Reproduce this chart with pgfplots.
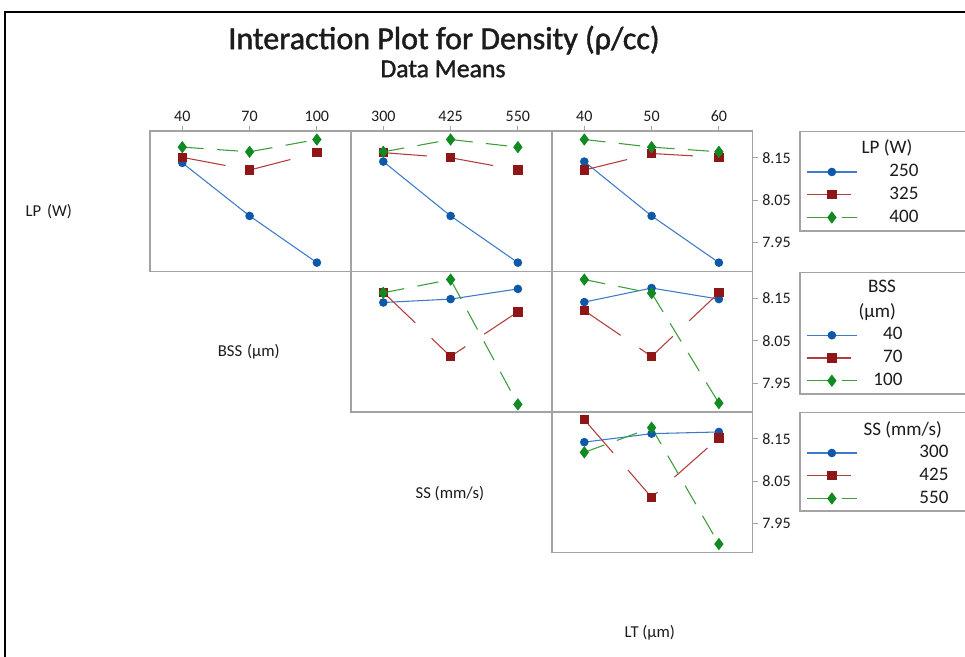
\documentclass[border=0pt]{standalone}
\usepackage{pgfplots}
\pgfplotsset{compat=1.18}
\usepackage{fontspec}
\setmainfont{Carlito}
\newfontfamily\titlefont{Carlito}[FakeBold=1.4]
\definecolor{axgray}{HTML}{A3A3A3}
\definecolor{mblue}{HTML}{0E58A8}
\definecolor{lblue}{HTML}{3C7BC8}
\definecolor{mred}{HTML}{8E1616}
\definecolor{lred}{HTML}{B33C3C}
\definecolor{mgreen}{HTML}{118A22}
\definecolor{lgreen}{HTML}{3A9E3A}
\definecolor{txt}{HTML}{1C1C1C}
\pgfplotsset{
  panel/.style={scale only axis, width=150.4pt, height=105.4pt, anchor=north west,
    xmin=-0.48, xmax=2.5, ymin=7.882, ymax=8.213,
    axis line style={draw=axgray, line width=1.1pt},
    xtick=\empty, ytick=\empty, tick align=outside, major tick length=3.8pt,
    tick style={draw=axgray, line width=0.8pt},
    ticklabel style={font=\fontsize{12}{14}\selectfont, text=txt},
    /pgf/number format/assume math mode=true},
  toprow/.style={xtick={0,1,2}, xtick pos=top, xticklabel pos=top},
  rightcol/.style={ytick={7.95,8.05,8.15}, ytick pos=right, yticklabel pos=right,
    yticklabel style={/pgf/number format/.cd, fixed, fixed zerofill, precision=2}},
  sA/.style={color=lblue, line width=0.8pt, solid, mark=*, mark size=2.8pt,
    mark options={solid, fill=mblue, draw=mblue}},
  sB/.style={color=lred, line width=0.8pt, dash pattern=on 33pt off 17pt, mark=square*, mark size=3.1pt,
    mark options={solid, fill=mred, draw=mred}},
  sC/.style={color=lgreen, line width=0.8pt, dash pattern=on 16pt off 10pt, mark=diamond*, mark size=4pt,
    mark options={solid, fill=mgreen, draw=mgreen}},
  leg/.style={legend image code/.code={\draw[##1, mark repeat=2, mark phase=2] plot coordinates {(0pt,0pt) (18.75pt,0pt) (37.5pt,0pt)};},
    legend style={draw=none, fill=none, inner sep=0pt, row sep=4.06pt, column sep=0pt,
      nodes={inner sep=0pt, text height=10pt, text depth=3pt},
      font=\fontsize{14.3}{16}\selectfont, text=txt, anchor=north west}},
}
\begin{document}
\begin{tikzpicture}
\useasboundingbox (0pt,0pt) rectangle (723.75pt,-492.75pt);
\fill[white] (0pt,0pt) rectangle (723.75pt,-492.75pt);
\draw[black, line width=1.5pt] (3.75pt,-492.75pt) -- (3.75pt,-9pt) -- (723.75pt,-9pt);
\node[font=\titlefont\fontsize{24}{28}\selectfont, text=txt] at (333pt,-30pt) {Interaction Plot for Density (ρ/cc)};
\node[font=\titlefont\fontsize{19.3}{22}\selectfont, text=txt] at (332.25pt,-51.75pt) {Data Means};
\begin{scope}[font=\fontsize{12.5}{14}\selectfont, text=txt]
\node at (36.6pt,-158.8pt) {LP\hspace{0.35em}(W)};
\node at (186.6pt,-263.8pt) {BSS\hspace{0.3em}(µm)};
\node at (337.4pt,-370pt) {SS (mm/s)};
\node at (487.4pt,-474.5pt) {LT (µm)};
\end{scope}
% legend frames and titles
\draw[axgray, line width=1pt] (600pt,-98.8pt) rectangle (725pt,-173.25pt);
\draw[axgray, line width=1pt] (600pt,-204.5pt) rectangle (725pt,-295.5pt);
\draw[axgray, line width=1pt] (600pt,-309.2pt) rectangle (725pt,-383.25pt);
\begin{scope}[font=\fontsize{14.3}{16}\selectfont, text=txt]
\node[anchor=east] at (687.75pt,-111.2pt) {LP (W)};
\node[anchor=east] at (675.5pt,-215pt) {BSS};
\node[anchor=east] at (675.5pt,-233.8pt) {(µm)};
\node[anchor=east] at (710pt,-322.5pt) {SS (mm/s)};
\end{scope}

% Row 1: LP
\begin{axis}[panel, toprow, xticklabels={40,70,100}, at={(112.5pt,-98.25pt)}]
\addplot[sA] coordinates {(0,8.138) (1,8.013) (2,7.903)};
\addplot[sB] coordinates {(0,8.151) (1,8.121) (2,8.162)};
\addplot[sC] coordinates {(0,8.175) (1,8.164) (2,8.193)};
\end{axis}
\begin{axis}[panel, toprow, xticklabels={300,425,550}, at={(263.25pt,-98.25pt)}]
\addplot[sA] coordinates {(0,8.141) (1,8.013) (2,7.903)};
\addplot[sB] coordinates {(0,8.162) (1,8.150) (2,8.121)};
\addplot[sC] coordinates {(0,8.164) (1,8.193) (2,8.175)};
\end{axis}
\begin{axis}[panel, toprow, rightcol, xticklabels={40,50,60}, at={(414pt,-98.25pt)},
  leg, legend style={at={(1.267,0.772)}}]
\addplot[sA] coordinates {(0,8.141) (1,8.013) (2,7.903)};
\addplot[sB] coordinates {(0,8.121) (1,8.160) (2,8.151)};
\addplot[sC] coordinates {(0,8.193) (1,8.175) (2,8.164)};
\addlegendentry{\makebox[45.75pt][r]{250}}
\addlegendentry{\makebox[45.75pt][r]{325}}
\addlegendentry{\makebox[45.75pt][r]{400}}
\end{axis}

% Row 2: BSS
\begin{axis}[panel, at={(263.25pt,-203.625pt)}]
\addplot[sA] coordinates {(0,8.140) (1,8.148) (2,8.172)};
\addplot[sB] coordinates {(0,8.164) (1,8.013) (2,8.118)};
\addplot[sC] coordinates {(0,8.163) (1,8.194) (2,7.900)};
\end{axis}
\begin{axis}[panel, rightcol, at={(414pt,-203.625pt)},
  leg, legend style={at={(1.267,0.61)}}]
\addplot[sA] coordinates {(0,8.141) (1,8.174) (2,8.148)};
\addplot[sB] coordinates {(0,8.121) (1,8.013) (2,8.163)};
\addplot[sC] coordinates {(0,8.194) (1,8.162) (2,7.903)};
\addlegendentry{\makebox[33.75pt][r]{40}}
\addlegendentry{\makebox[33.75pt][r]{70}}
\addlegendentry{\makebox[33.75pt][r]{100}}
\end{axis}

% Row 3: SS
\begin{axis}[panel, rightcol, at={(414pt,-309pt)},
  leg, legend style={at={(1.267,0.772)}}]
\addplot[sA] coordinates {(0,8.142) (1,8.162) (2,8.166)};
\addplot[sB] coordinates {(0,8.195) (1,8.012) (2,8.152)};
\addplot[sC] coordinates {(0,8.118) (1,8.176) (2,7.902)};
\addlegendentry{\makebox[68.25pt][r]{300}}
\addlegendentry{\makebox[68.25pt][r]{425}}
\addlegendentry{\makebox[68.25pt][r]{550}}
\end{axis}
\end{tikzpicture}
\end{document}
